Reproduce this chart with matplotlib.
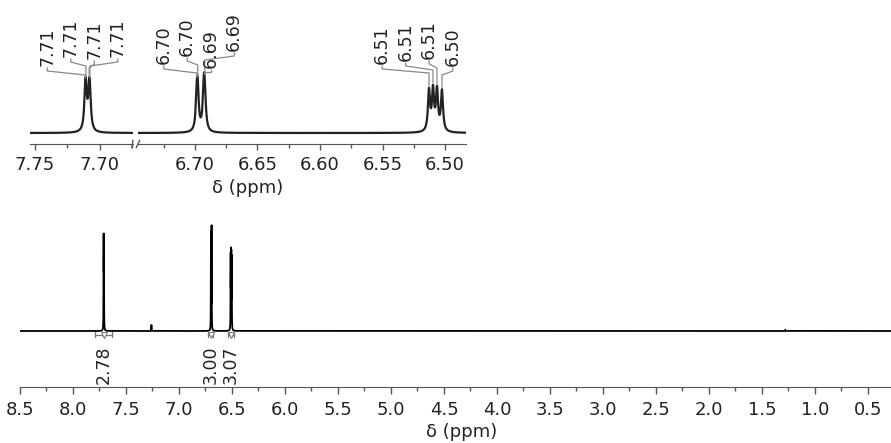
# 1H NMR spectrum with expanded inset

import matplotlib.pyplot as plt
import numpy as np
from matplotlib.ticker import MultipleLocator, FormatStrFormatter

# data ----------------------------------------------------------------
# picked lines (ppm) and their heights (6.70 multiplet maximum = 1)
line_ppm = [7.7113, 7.7108, 7.7083, 7.7078,
            7.2600,
            6.6985, 6.6978, 6.6930, 6.6922,
            6.5128, 6.5096, 6.5064, 6.5024,
            1.2800]
line_height = [0.44, 0.44, 0.44, 0.44,
               0.057,
               0.51, 0.51, 0.56, 0.56,
               0.66, 0.66, 0.66, 0.66,
               0.012]
line_fwhm = 0.002

# peak labels in the inset (multiplet groups)
group_lines = [[7.7113, 7.7108, 7.7083, 7.7078],
               [6.6985, 6.6978, 6.6930, 6.6922],
               [6.5128, 6.5096, 6.5064, 6.5024]]

# integrals
int_from = [7.79, 6.726, 6.538]
int_to = [7.63, 6.679, 6.481]
int_values = ['2.78', '3.00', '3.07']

# layout --------------------------------------------------------------
W, H = 891, 443
text_c = '#222222'
spine_c = '#555555'
label_centers = [7.7134, 6.6968, 6.5220]
label_bottom_px = [[66, 57, 59, 57], [64, 56, 68, 51], [64, 61, 59, 66]]
label_spacing_px = 23.5


def spectrum(x):
    g = line_fwhm / 2
    y = np.zeros_like(x)
    for p, h in zip(line_ppm, line_height):
        y += h / (1 + ((x - p) / g) ** 2)
    return y


fig = plt.figure(figsize=(W / 100, H / 100), dpi=100)

# main spectrum -------------------------------------------------------
main_scale = 106.0  # px per unit
ax = fig.add_axes([20 / W, 56 / H, 871 / W, 172 / H])
x = np.arange(0.28, 8.5, 0.00005)
ax.plot(x, spectrum(x), color='black', lw=1.3)
ax.set_xlim(8.5, 0.283)
ymin = -56 / main_scale
ax.set_ylim(ymin, ymin + 172 / main_scale)
for s in ['left', 'right', 'top']:
    ax.spines[s].set_visible(False)
ax.spines['bottom'].set_color(spine_c)
ax.set_yticks([])
ax.xaxis.set_major_locator(MultipleLocator(0.5))
ax.xaxis.set_minor_locator(MultipleLocator(0.25))
ax.xaxis.set_major_formatter(FormatStrFormatter('%.1f'))
ax.tick_params(axis='x', which='major', length=5, width=1, color=spine_c,
               labelsize=13, labelcolor=text_c, pad=5)
ax.tick_params(axis='x', which='minor', length=3, width=1, color=spine_c)
fig.text(462 / W, 1 - 432 / H, 'δ (ppm)', ha='center', va='center',
         fontsize=13, color=text_c)

# integrals
for a, b, v in zip(int_from, int_to, int_values):
    yb = -4 / main_scale
    mid = (a + b) / 2
    ax.plot([a, b], [yb, yb], color='#777777', lw=0.9)
    for e in (a, b):
        ax.plot([e, e], [yb - 2 / main_scale, yb + 3 / main_scale],
                color='#777777', lw=0.9)
    ax.plot([mid], [yb], marker='v', ms=4, mfc='white', mec='#777777', mew=0.8)
    ax.text(mid, -15 / main_scale, v, rotation=90, ha='center', va='top',
            fontsize=12.5, color=text_c)

# inset (broken axis) ---------------------------------------------------
ins_scale = 61.0
ins_ymin = -11 / ins_scale
axl = fig.add_axes([30 / W, 299 / H, 103 / W, 144 / H])
axr = fig.add_axes([138 / W, 299 / H, 328 / W, 144 / H])
axl.set_xlim(7.7538, 7.6746)
axr.set_xlim(6.7456, 6.4832)
for a in (axl, axr):
    lo, hi = sorted(a.get_xlim())
    xi = np.arange(lo, hi, 0.00002)
    a.plot(xi, spectrum(xi), color='#222222', lw=1.6)
    a.set_ylim(ins_ymin, ins_ymin + 144 / ins_scale)
    for s in ['left', 'right', 'top']:
        a.spines[s].set_visible(False)
    a.spines['bottom'].set_color(spine_c)
    a.set_yticks([])
    a.patch.set_alpha(0)
    a.xaxis.set_major_locator(MultipleLocator(0.05))
    a.xaxis.set_minor_locator(MultipleLocator(0.025))
    a.xaxis.set_major_formatter(FormatStrFormatter('%.2f'))
    a.tick_params(axis='x', which='major', length=4, width=1, color=spine_c,
                  labelsize=13, labelcolor=text_c, pad=5)
    a.tick_params(axis='x', which='minor', length=3, width=1, color=spine_c)

# break marks
axl.plot([0.988, 1.0], [-0.025, 0.025], transform=axl.transAxes,
         color=spine_c, lw=1, clip_on=False)
axr.plot([-0.005, 0.005], [-0.025, 0.025], transform=axr.transAxes,
         color=spine_c, lw=1, clip_on=False)

fig.text(248 / W, 1 - 188 / H, 'δ (ppm)', ha='center', va='center',
         fontsize=13, color=text_c)

# peak labels with leader lines
px = 1 / ins_scale
for g, (lines, c, bots) in enumerate(zip(group_lines, label_centers, label_bottom_px)):
    a = axl if g == 0 else axr
    x0, x1 = a.get_xlim()
    ppm_per_px = (x0 - x1) / (a.get_position().width * W)
    for i, (p, bpx) in enumerate(zip(lines, bots)):
        xl = c + (1.5 - i) * label_spacing_px * ppm_per_px
        yb = (133 - bpx) / ins_scale
        top = spectrum(np.array([p]))[0]
        k2 = max(yb - 9 * px, top + 4 * px)
        k1 = max(yb - 5 * px, k2)
        a.plot([xl, xl, p, p], [yb - 2 * px, k1, k2, top + 2 * px],
               color='#888888', lw=0.9, clip_on=False)
        a.text(xl, yb, '%.2f' % p, rotation=90, ha='center', va='bottom',
               fontsize=12.5, color=text_c, clip_on=False)

fig.savefig('out.png', dpi=100)
